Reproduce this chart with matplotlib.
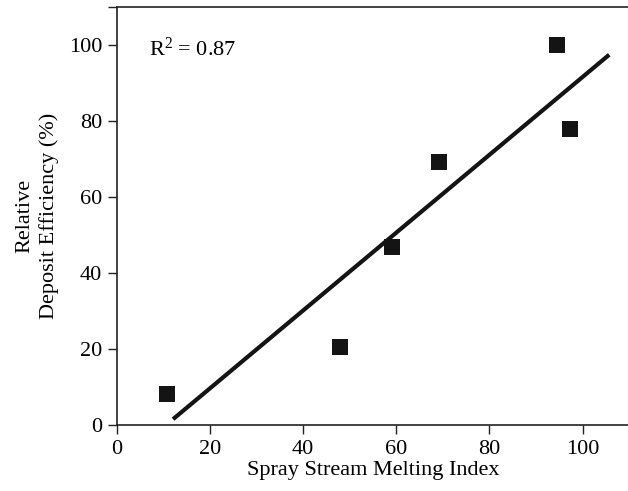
import matplotlib
matplotlib.use("Agg")
import matplotlib.pyplot as plt
import numpy as np

melting_index = [10.9, 48.0, 59.0, 69.1, 94.4, 97.2]
deposit_eff = [8.1, 20.6, 47.0, 69.3, 100.0, 78.0]
fit_range = [12.1, 105.7]
x_ticks = [0, 20, 40, 60, 80, 100, 110]
x_ticklabels = ["0", "20", "40", "60", "80", "100", ""]
y_ticks = [0, 20, 40, 60, 80, 100, 110]
y_ticklabels = ["0", "20", "40", "60", "80", "100", ""]

plt.rcParams['font.family'] = ['Liberation Serif', 'DejaVu Serif']
plt.rcParams['mathtext.fontset'] = 'custom'
plt.rcParams['mathtext.rm'] = 'Liberation Serif'
plt.rcParams['mathtext.it'] = 'Liberation Serif:italic'

fig = plt.figure(figsize=(6.28, 4.91), dpi=100)
ax = fig.add_axes([0.1858, 0.1344, 1.0 - 0.1858 + 0.002, 0.9851 - 0.1344])

slope, intercept = np.polyfit(melting_index, deposit_eff, 1)
xf = np.array(fit_range)
ax.plot(xf, slope * xf + intercept, color='#141414', lw=3.0, solid_capstyle='butt', zorder=2)
ax.plot(melting_index, deposit_eff, 's', color='#141414', markersize=11.3, markeredgewidth=0, zorder=3)

ax.set_xlim(0, 110)
ax.set_ylim(0, 110)
ax.set_xticks(x_ticks)
ax.set_xticklabels(x_ticklabels)
ax.set_yticks(y_ticks)
ax.set_yticklabels(y_ticklabels)
ax.tick_params(direction='out', length=6.5, width=1.0, color='#222222', labelsize=16, pad=4)
for s in ['left', 'bottom', 'top']:
    ax.spines[s].set_linewidth(1.2)
    ax.spines[s].set_color('#222222')
ax.spines['right'].set_visible(False)

ax.set_xlabel("Spray Stream Melting Index", fontsize=16, labelpad=2)
ax.set_ylabel("Relative\nDeposit Efficiency (%)", fontsize=16, labelpad=7, linespacing=1.3)
ax.text(7, 99, r"$\mathrm{R}^{2}$ = 0.87", fontsize=16, ha='left', va='center')

fig.savefig("out.png", dpi=100)
